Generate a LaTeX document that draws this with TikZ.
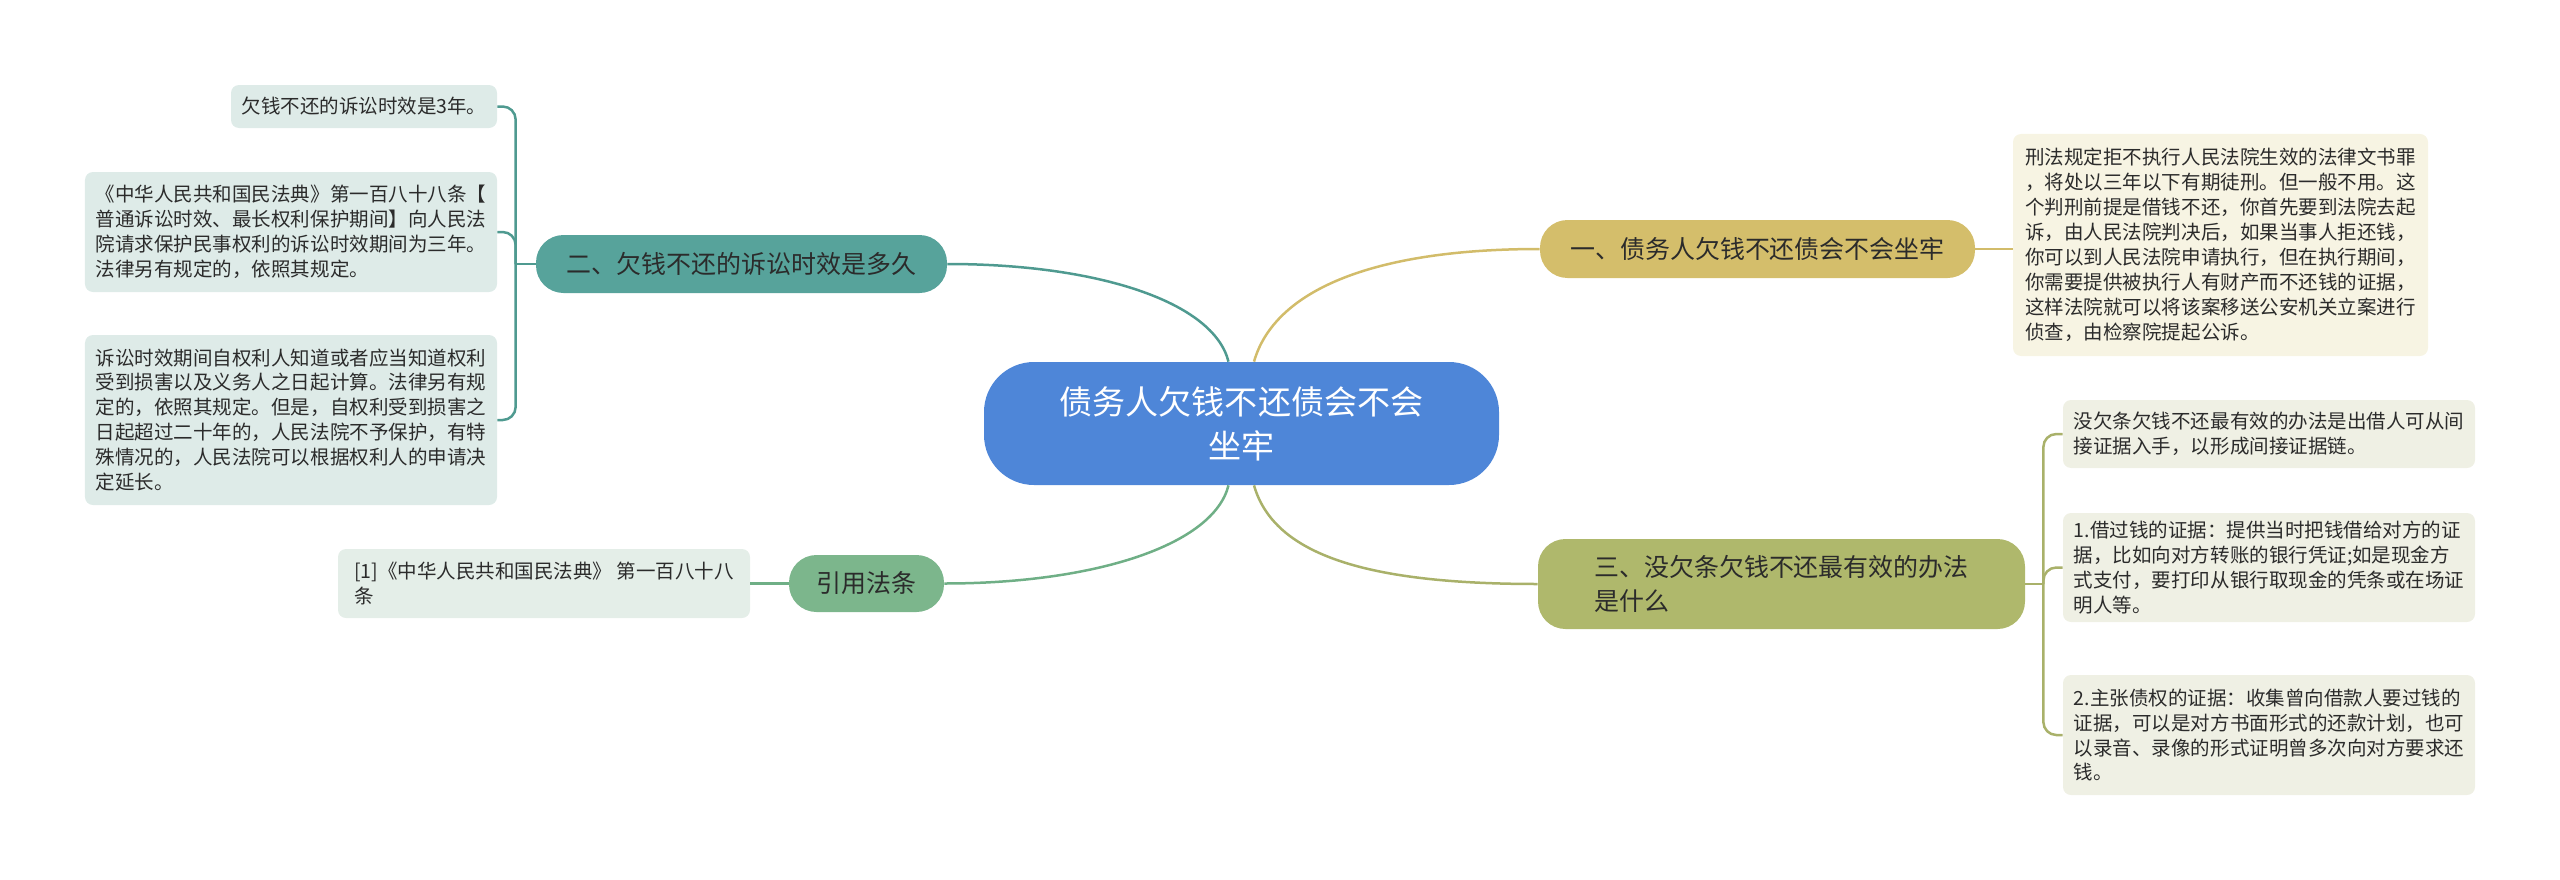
\documentclass[tikz,border=0pt]{standalone}
\usepackage{fontspec}
\setmainfont{Noto Sans CJK SC}
\usetikzlibrary{positioning}

\definecolor{rootblue}{HTML}{4E86D8}
\definecolor{tealsub}{HTML}{57A39B}
\definecolor{tealleaf}{HTML}{DEEBE8}
\definecolor{tealline}{HTML}{4F9A90}
\definecolor{greensub}{HTML}{7CB68C}
\definecolor{greenleaf}{HTML}{E4EEE8}
\definecolor{greenline}{HTML}{6FAF86}
\definecolor{goldsub}{HTML}{D4BE6B}
\definecolor{goldleaf}{HTML}{F7F4E3}
\definecolor{goldline}{HTML}{D2BC6A}
\definecolor{olivesub}{HTML}{AFB86C}
\definecolor{oliveleaf}{HTML}{EFF0E4}
\definecolor{oliveline}{HTML}{A9B16A}
\definecolor{inktext}{HTML}{2B2B2B}

\begin{document}
\begin{tikzpicture}[x=0.2mm,y=-0.2mm,
  topic/.style={fill=rootblue,text=white,rounded corners=10mm,minimum width=103mm,minimum height=24.6mm,align=center,inner sep=0pt,font=\fontsize{18.8}{25}\selectfont},
  sub/.style={rounded corners=5.5mm,minimum height=11.6mm,align=left,inner sep=0pt,text=inktext,font=\fontsize{14.2}{19.4}\selectfont},
  leaf/.style={rounded corners=1.6mm,minimum width=82.4mm,align=left,inner sep=0pt,text=inktext,font=\fontsize{11.1}{14.2}\selectfont},
  link/.style={line width=0.5mm}]
\useasboundingbox (0,0) rectangle (2560,880);

\node[topic] (root) at (1241.5,423.5) {债务人欠钱不还债会不会\\坐牢};

% left side
\node[sub,fill=tealsub,minimum width=82.2mm] (b2) at (741.5,264) {二、欠钱不还的诉讼时效是多久};
\node[leaf,fill=tealleaf,minimum width=53.2mm,minimum height=8.6mm] (l1) at (364,106.5) {欠钱不还的诉讼时效是3年。};
\node[leaf,fill=tealleaf,minimum height=24mm] (l2) at (291,232) {《中华人民共和国民法典》第一百八十八条【\\普通诉讼时效、最长权利保护期间】向人民法\\院请求保护民事权利的诉讼时效期间为三年。\\法律另有规定的，依照其规定。};
\node[leaf,fill=tealleaf,minimum height=34mm] (l3) at (291,420) {诉讼时效期间自权利人知道或者应当知道权利\\受到损害以及义务人之日起计算。法律另有规\\定的，依照其规定。但是，自权利受到损害之\\日起超过二十年的，人民法院不予保护，有特\\殊情况的，人民法院可以根据权利人的申请决\\定延长。};

\node[sub,fill=greensub,minimum width=31mm,minimum height=11.4mm] (b4) at (866.5,583.5) {引用法条};
\node[leaf,fill=greenleaf,minimum height=13.8mm] (c1) at (544,583.5) {[1]《中华人民共和国民法典》 第一百八十八\\条};

% right side
\node[sub,fill=goldsub,minimum width=87mm] (b1) at (1757.5,249) {一、债务人欠钱不还债会不会坐牢};
\node[leaf,fill=goldleaf,minimum width=83mm,minimum height=44.4mm] (t1) at (2220.5,245) {刑法规定拒不执行人民法院生效的法律文书罪\\，将处以三年以下有期徒刑。但一般不用。这\\个判刑前提是借钱不还，你首先要到法院去起\\诉，由人民法院判决后，如果当事人拒还钱，\\你可以到人民法院申请执行，但在执行期间，\\你需要提供被执行人有财产而不还钱的证据，\\这样法院就可以将该案移送公安机关立案进行\\侦查，由检察院提起公诉。};

\node[sub,fill=olivesub,minimum width=97.4mm,minimum height=18mm] (b3) at (1781.5,584) {三、没欠条欠钱不还最有效的办法\\是什么};
\node[leaf,fill=oliveleaf,minimum height=13.6mm] (r1) at (2269,434) {没欠条欠钱不还最有效的办法是出借人可从间\\接证据入手，以形成间接证据链。};
\node[leaf,fill=oliveleaf,minimum height=21.8mm] (r2) at (2269,567.5) {1.借过钱的证据：提供当时把钱借给对方的证\\据，比如向对方转账的银行凭证;如是现金方\\式支付，要打印从银行取现金的凭条或在场证\\明人等。};
\node[leaf,fill=oliveleaf,minimum height=24mm] (r3) at (2269,735) {2.主张债权的证据：收集曾向借款人要过钱的\\证据，可以是对方书面形式的还款计划，也可\\以录音、录像的形式证明曾多次向对方要求还\\钱。};

% root to branches
\draw[link,tealline] ([xshift=-2.6mm]root.north) .. controls +(-15,-60) and +(150,0) .. (b2.east);
\draw[link,goldline] ([xshift=2.5mm]root.north) .. controls +(20,-70) and +(-170,0) .. (b1.west);
\draw[link,greenline] ([xshift=-2.6mm]root.south) .. controls +(-15,60) and +(150,0) .. (b4.east);
\draw[link,oliveline] ([xshift=2.5mm]root.south) .. controls +(20,70) and +(-170,0) .. (b3.west);

% branches to leaves
\draw[link,tealline] (b2.west) -- ++(-20,0) coordinate (j2);
\foreach \n in {l1,l2,l3}
  \draw[link,tealline,rounded corners=2.6mm] (j2) |- (\n.east);
\draw[link,greenline] (b4.west) -- (c1.east);
\draw[link,goldline] (b1.east) -- (b1.east -| t1.west);
\draw[link,oliveline] (b3.east) -- ++(18,0) coordinate (j3);
\foreach \n in {r1,r2,r3}
  \draw[link,oliveline,rounded corners=2.6mm] (j3) |- (\n.west);
\end{tikzpicture}
\end{document}
